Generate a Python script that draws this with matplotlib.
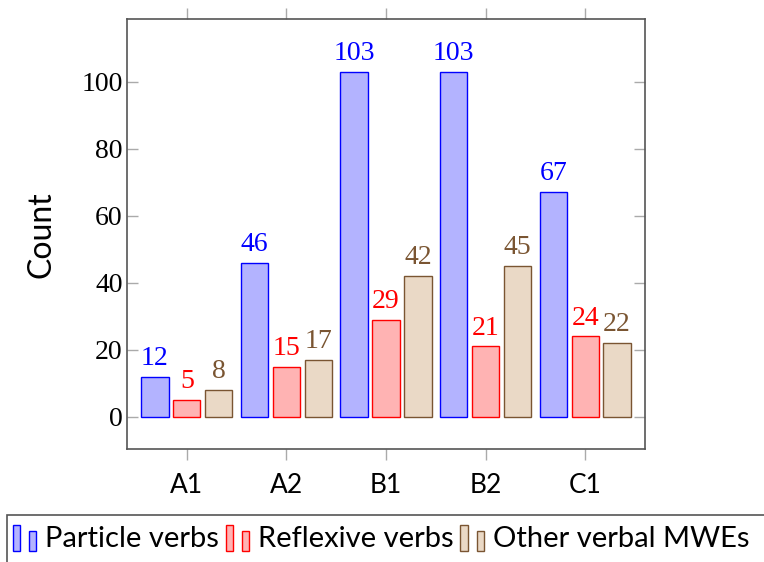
import numpy as np
import matplotlib

matplotlib.use('Agg')
import matplotlib.pyplot as plt
from matplotlib.patches import Rectangle
from matplotlib.legend_handler import HandlerBase

levels = ['A1', 'A2', 'B1', 'B2', 'C1']
particle = [12, 46, 103, 103, 67]
reflexive = [5, 15, 29, 21, 24]
other = [8, 17, 42, 45, 22]
series_names = ['Particle verbs', 'Reflexive verbs', 'Other verbal MWEs']

edge_colors = ['#0000ff', '#ff0000', '#7a5532']
fill_colors = ['#b3b3ff', '#ffb3b3', '#ead9c6']

SERIF = 'Liberation Serif'
SANS = 'Lato'


class TwoBars(HandlerBase):
    # pgfplots style ybar legend: two small bars of different heights
    def create_artists(self, legend, orig_handle, xdescent, ydescent,
                       width, height, fontsize, trans):
        fc = orig_handle.get_facecolor()
        ec = orig_handle.get_edgecolor()
        w = width * 0.28
        r1 = Rectangle((-xdescent, -ydescent - height * 0.1), w, height * 1.1,
                       facecolor=fc, edgecolor=ec, lw=1.0, transform=trans)
        r2 = Rectangle((-xdescent + width * 0.66, -ydescent - height * 0.1), w, height * 0.85,
                       facecolor=fc, edgecolor=ec, lw=1.0, transform=trans)
        return [r1, r2]


fig = plt.figure(figsize=(7.64, 5.62), dpi=100)
ax = fig.add_axes([127 / 764, 1 - 449.3 / 562, 518 / 764, 430.3 / 562])

x = np.arange(len(levels))
bar_w = 0.275
step = 0.32
handles = []
for i, values in enumerate([particle, reflexive, other]):
    pos = x + (i - 1) * step
    bars = ax.bar(pos, values, width=bar_w, color=fill_colors[i],
                  edgecolor=edge_colors[i], linewidth=1.0, label=series_names[i])
    handles.append(bars[0])
    for p, v in zip(pos, values):
        ax.annotate(str(v), (p, v), xytext=(0, 8.5), textcoords='offset points',
                    ha='center', va='baseline', fontsize=20, family=SERIF,
                    color=edge_colors[i])

ax.set_xlim(-0.6, 4.6)
ax.set_ylim(-9.7, 118.7)
ax.set_xticks(x)
ax.set_xticklabels(levels, family=SANS, fontsize=19)
ax.set_yticks([0, 20, 40, 60, 80, 100])
ax.set_yticklabels(['0', '20', '40', '60', '80', '100'], family=SERIF, fontsize=20)
ax.set_ylabel('Count', family=SANS, fontsize=23, labelpad=18)

ax.tick_params(axis='x', direction='out', length=8, width=1, color='#aaaaaa',
               top=True, bottom=True, pad=9)
ax.tick_params(axis='y', direction='in', length=8, width=1, color='#aaaaaa',
               left=True, right=True, pad=3)
for s in ax.spines.values():
    s.set_color('#555555')
    s.set_linewidth(1.2)

# legend box runs off the right and bottom edges of the picture
leg_top = 1 - 515 / 562
fig.patches.append(Rectangle((7 / 764, -0.05), 1.0, leg_top + 0.05, transform=fig.transFigure,
                             fill=False, edgecolor='#555555', lw=1.2))
leg = fig.legend(handles, series_names, handler_map={h: TwoBars() for h in handles},
                 loc='upper left', bbox_to_anchor=(7 / 764, leg_top - 4 / 562),
                 ncol=3, frameon=False, borderaxespad=0,
                 prop={'family': SANS, 'size': 21},
                 handlelength=0.86, handleheight=0.9, handletextpad=0.24,
                 columnspacing=0.24, borderpad=0.2)

fig.savefig('out.png', dpi=100)
